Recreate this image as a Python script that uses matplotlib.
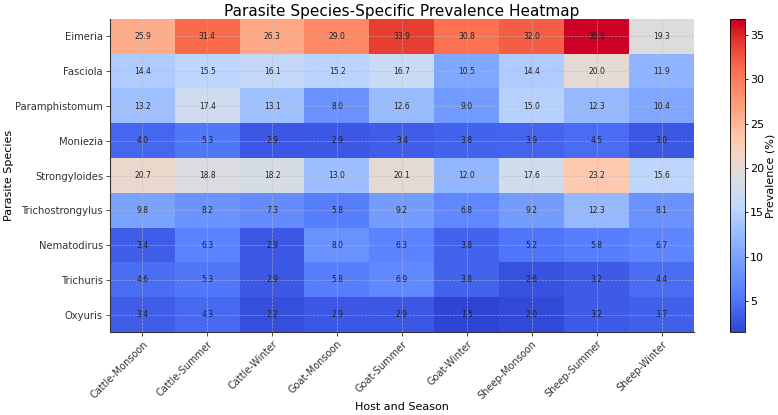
import matplotlib
matplotlib.use("Agg")
import matplotlib.pyplot as plt
import matplotlib.colors as mcolors
import numpy as np

species = ["Eimeria", "Fasciola", "Paramphistomum", "Moniezia", "Strongyloides",
           "Trichostrongylus", "Nematodirus", "Trichuris", "Oxyuris"]
groups = ["Cattle-Monsoon", "Cattle-Summer", "Cattle-Winter", "Goat-Monsoon", "Goat-Summer",
          "Goat-Winter", "Sheep-Monsoon", "Sheep-Summer", "Sheep-Winter"]

eimeria = [25.9, 31.4, 26.3, 29.0, 33.9, 30.8, 32.0, 36.8, 19.3]
fasciola = [14.4, 15.5, 16.1, 15.2, 16.7, 10.5, 14.4, 20.0, 11.9]
paramphistomum = [13.2, 17.4, 13.1, 8.0, 12.6, 9.0, 15.0, 12.3, 10.4]
moniezia = [4.0, 5.3, 2.9, 2.9, 3.4, 3.8, 3.9, 4.5, 3.0]
strongyloides = [20.7, 18.8, 18.2, 13.0, 20.1, 12.0, 17.6, 23.2, 15.6]
trichostrongylus = [9.8, 8.2, 7.3, 5.8, 9.2, 6.8, 9.2, 12.3, 8.1]
nematodirus = [3.4, 6.3, 2.9, 8.0, 6.3, 3.8, 5.2, 5.8, 6.7]
trichuris = [4.6, 5.3, 2.9, 5.8, 6.9, 3.8, 2.6, 3.2, 4.4]
oxyuris = [3.4, 4.3, 2.2, 2.9, 2.9, 1.5, 2.0, 3.2, 3.7]

data = np.array([eimeria, fasciola, paramphistomum, moniezia, strongyloides,
                 trichostrongylus, nematodirus, trichuris, oxyuris])

# slightly more vivid coolwarm
base = plt.get_cmap("coolwarm")(np.linspace(0, 1, 256))[:, :3]
hsv = mcolors.rgb_to_hsv(base)
s = hsv[:, 1].copy()
hsv[:, 1] = np.clip(s * 1.12, 0, 1)
hsv[:, 2] = np.clip(hsv[:, 2] * (1 + 0.15 * s), 0, 1)
cmap = mcolors.ListedColormap(mcolors.hsv_to_rgb(hsv))

fig = plt.figure(figsize=(7.78, 4.15), dpi=100)
ax = fig.add_axes([0.1414, 0.200, 0.7506, 0.754])
cax = fig.add_axes([0.9383, 0.200, 0.0193, 0.754])

im = ax.imshow(data, cmap=cmap, aspect="auto", interpolation="nearest")
for i in range(data.shape[0]):
    for j in range(data.shape[1]):
        ax.text(j, i, f"{data[i, j]:.1f}", ha="center", va="center", fontsize=5.5, color="#222222")

ax.set_xticks(range(len(groups)))
ax.set_xticklabels(groups, rotation=45, ha="right", rotation_mode="anchor", fontsize=7)
ax.set_yticks(range(len(species)))
ax.set_yticklabels(species, fontsize=7.2)
ax.tick_params(length=3, width=0.6, colors="#333333", pad=2)
ax.grid(True, color="#bbbbbb", linestyle="--", linewidth=0.5, alpha=0.7)
ax.set_xlabel("Host and Season", fontsize=8, labelpad=1)
ax.set_ylabel("Parasite Species", fontsize=8, labelpad=1)
ax.set_title("Parasite Species-Specific Prevalence Heatmap", fontsize=11, pad=2)
for sp in ["top", "right"]:
    ax.spines[sp].set_visible(False)
for sp in ["left", "bottom"]:
    ax.spines[sp].set_color("#333333")

cb = fig.colorbar(im, cax=cax)
cb.set_label("Prevalence (%)", fontsize=8, labelpad=1)
cb.ax.tick_params(labelsize=8, length=2.5, width=0.6, pad=1)
cb.outline.set_linewidth(0.6)

fig.savefig("out.png", dpi=100)
